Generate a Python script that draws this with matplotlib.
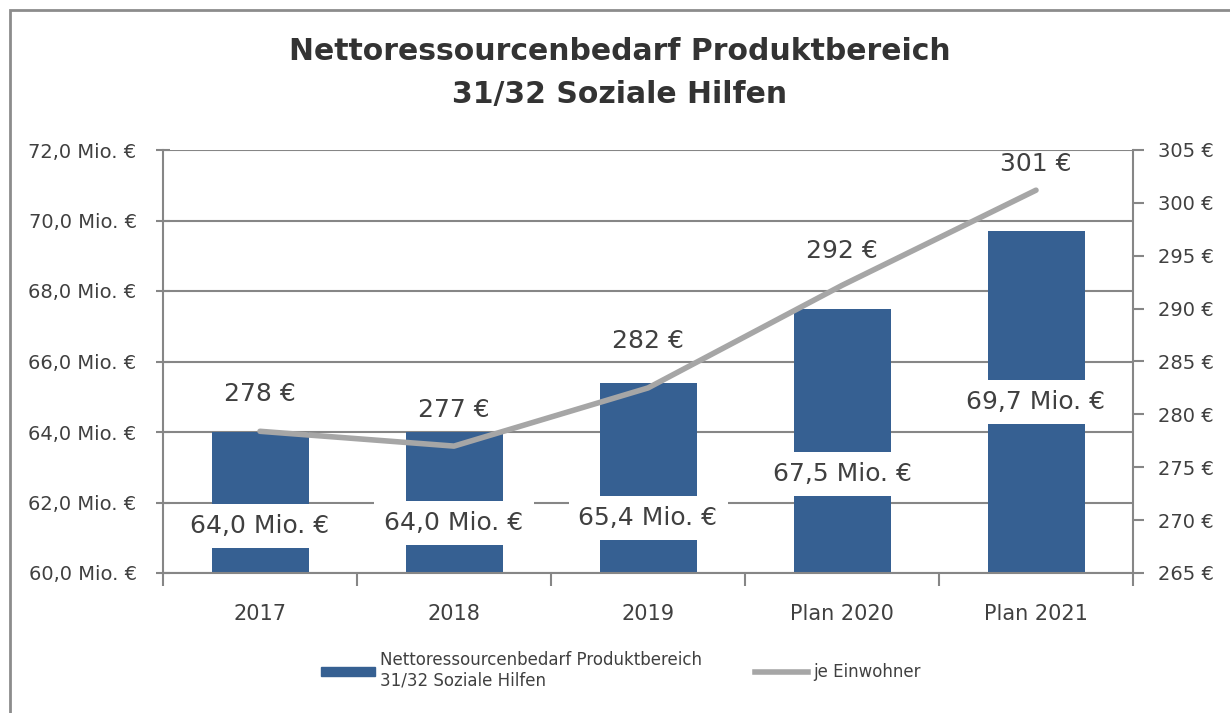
import matplotlib.pyplot as plt
from matplotlib.patches import Rectangle
from matplotlib.ticker import FuncFormatter

categories = ['2017', '2018', '2019', 'Plan 2020', 'Plan 2021']
bedarf = [64.0, 64.0, 65.4, 67.5, 69.7]          # Mio. €
je_einwohner = [278.4, 277.0, 282.5, 292.2, 301.2]  # € je Einwohner
einwohner_labels = ['278 €', '277 €', '282 €', '292 €', '301 €']

# layout of the data labels (as Excel placed them)
bar_label_y = [61.33, 61.42, 61.55, 62.82, 64.86]
line_label_dy = [27, 26, 34, 25, 19]

blue = '#366092'
grey_line = '#a6a6a6'
axis_grey = '#868686'
txt = '#404040'

plt.rcParams['font.family'] = ['DejaVu Sans']


def mio(v):
    return ('%.1f' % v).replace('.', ',') + ' Mio. €'


fig = plt.figure(figsize=(12.3, 7.13), dpi=100)
ax = fig.add_axes([163/1230, 1-573/713, (1133-163)/1230, (573-150)/713])
ax2 = ax.twinx()

x = list(range(len(categories)))
ax.bar(x, bedarf, width=0.5, color=blue, zorder=2)
ax.set_ylim(60, 72)
ax.set_xlim(-0.5, 4.5)
ax.set_yticks([60, 62, 64, 66, 68, 70, 72])
ax.yaxis.set_major_formatter(FuncFormatter(lambda v, p: mio(v)))
ax.grid(axis='y', color=axis_grey, lw=1.5, zorder=0)
ax.set_axisbelow(True)

ax.set_xticks(x)
ax.set_xticklabels(categories, fontsize=15, color=txt)
ax.set_xticks([i + 0.5 for i in range(-1, 5)], minor=True)
ax.tick_params(axis='x', which='major', length=0, pad=22)
ax.tick_params(axis='x', which='minor', length=9, width=1.5, color=axis_grey, direction='out')
ax.tick_params(axis='y', length=10, width=1.5, color=axis_grey, direction='inout',
               labelsize=14, labelcolor=txt, pad=14)

for s in ['top', 'right']:
    ax.spines[s].set_visible(False)
for s in ['left', 'bottom']:
    ax.spines[s].set_color(axis_grey)
    ax.spines[s].set_linewidth(1.5)

for i, v in enumerate(bedarf):
    ax.text(i, bar_label_y[i], mio(v), ha='center', va='center',
            fontsize=18, color=txt, zorder=5,
            bbox=dict(boxstyle='square,pad=0.4', fc='white', ec='none'))

ax2.plot(x, je_einwohner, color=grey_line, lw=4, solid_capstyle='round', zorder=3)
ax2.set_ylim(265, 305)
ax2.set_yticks(range(265, 306, 5))
ax2.yaxis.set_major_formatter(FuncFormatter(lambda v, p: '%d €' % v))
ax2.tick_params(axis='y', length=8, width=1.5, color=axis_grey, direction='out',
                labelsize=14, labelcolor=txt, pad=10)
for s in ['top', 'left', 'bottom']:
    ax2.spines[s].set_visible(False)
ax2.spines['right'].set_color(axis_grey)
ax2.spines['right'].set_linewidth(1.5)

for i, v in enumerate(je_einwohner):
    ax2.annotate(einwohner_labels[i], (i, v), xytext=(0, line_label_dy[i]), textcoords='offset points',
                 ha='center', va='center', fontsize=18, color=txt, zorder=6)

fig.text(0.504, 1-52/713, 'Nettoressourcenbedarf Produktbereich', ha='center', va='center',
         fontsize=21.5, fontweight='bold', color='#333333')
fig.text(0.504, 1-95/713, '31/32 Soziale Hilfen', ha='center', va='center',
         fontsize=21.5, fontweight='bold', color='#333333')

h1 = Rectangle((0, 0), 1, 1, color=blue)
h2 = plt.Line2D([0], [0], color=grey_line, lw=4)
fig.legend([h1, h2], ['Nettoressourcenbedarf Produktbereich\n31/32 Soziale Hilfen', 'je Einwohner'],
           loc='center', bbox_to_anchor=(0.505, 1-670/713), ncol=2, frameon=False,
           fontsize=12, handlelength=3.2, handleheight=0.45, columnspacing=3.2, handletextpad=0.3,
           labelcolor=txt)

fig.add_artist(Rectangle((10/1230, -0.1), 1.2, 1-10/713 + 0.1, transform=fig.transFigure,
                         fill=False, ec='#8c8c8c', lw=2))

fig.savefig('out.png', dpi=100)
